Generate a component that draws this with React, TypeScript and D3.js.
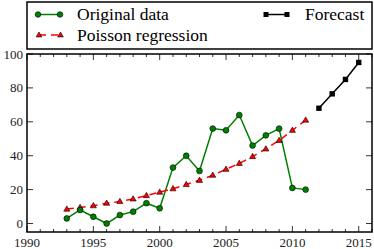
import React from 'react';
import * as d3 from 'd3';

const ORIG_YEARS = [1993, 1994, 1995, 1996, 1997, 1998, 1999, 2000, 2001, 2002,
  2003, 2004, 2005, 2006, 2007, 2008, 2009, 2010, 2011];
const ORIG_VALUES = [3, 8, 4, 0, 5, 7, 12, 9, 33, 40, 31, 56, 55, 64, 46, 52, 56, 21, 20];
const POISSON_VALUES = [8.5, 9.5, 10.5, 12, 13, 14.5, 16.5, 18.5, 20.5, 23,
  25.5, 28.5, 32, 35.5, 39.5, 44, 49, 55, 61];
const FORECAST_YEARS = [2012, 2013, 2014, 2015];
const FORECAST_VALUES = [68, 76.5, 85, 95];
const X_TICKS = [1990, 1995, 2000, 2005, 2010, 2015];
const Y_TICKS = [0, 20, 40, 60, 80, 100];

const W = 374;
const H = 249;
const M = { left: 27, right: 2, top: 54, bottom: 17 };

const GREEN = '#008000';
const RED = '#ff0000';

// fonts forced with !important in case something else styles svg text
const CSS = `
svg.chart text { font-family: "Liberation Serif", serif !important; }
svg.chart text.lg { font-size: 17.5px !important; }
svg.chart text.tk { font-size: 13px !important; }
`;

type Pt = { x: number; y: number };

const tri = (cx: number, cy: number, s: number) =>
  `M${cx},${cy - s}L${cx + s * 0.95},${cy + s * 0.65}L${cx - s * 0.95},${cy + s * 0.65}Z`;

export default function App() {
  const x = d3.scaleLinear().domain([1990, 2016]).range([M.left, W - M.right]);
  const y = d3.scaleLinear().domain([-5, 100]).range([H - M.bottom, M.top]);

  const line = d3.line<Pt>().x(d => x(d.x)).y(d => y(d.y));
  const orig = ORIG_YEARS.map((yr, i) => ({ x: yr, y: ORIG_VALUES[i] }));
  const pois = ORIG_YEARS.map((yr, i) => ({ x: yr, y: POISSON_VALUES[i] }));
  const fc = FORECAST_YEARS.map((yr, i) => ({ x: yr, y: FORECAST_VALUES[i] }));

  const minor = d3.range(1990, 2017);
  const x0 = M.left, x1 = W - M.right, y0 = M.top, y1 = H - M.bottom;

  return (
    <svg className="chart" width={W} height={H}
      style={{ position: 'absolute', left: 0, top: 0, background: '#fff' }}>
      <style>{CSS}</style>
      {/* legend */}
      <rect x={27} y={2} width={345} height={47} fill="#fff" stroke="#000" strokeWidth={1.5} />
      <line x1={38} x2={60} y1={14.5} y2={14.5} stroke={GREEN} strokeWidth={1.5} />
      <circle cx={38} cy={14.5} r={2.8} fill={GREEN} stroke="#000" strokeWidth={0.6} />
      <circle cx={60} cy={14.5} r={2.8} fill={GREEN} stroke="#000" strokeWidth={0.6} />
      <text className="lg" x={77} y={20}>Original data</text>

      <line x1={39} x2={60} y1={35} y2={35} stroke={RED} strokeWidth={1.5} strokeDasharray="7 5" />
      <path d={tri(39, 35, 3)} fill={RED} stroke="#000" strokeWidth={0.6} />
      <path d={tri(60.5, 35, 3)} fill={RED} stroke="#000" strokeWidth={0.6} />
      <text className="lg" x={77} y={40.5}>Poisson regression</text>

      <line x1={266} x2={287} y1={14.5} y2={14.5} stroke="#000" strokeWidth={1.5} />
      <rect x={263.5} y={12} width={5} height={5} fill="#000" />
      <rect x={284.5} y={12} width={5} height={5} fill="#000" />
      <text className="lg" x={305} y={20}>Forecast</text>

      {/* ticks */}
      {minor.map(v => {
        const len = v % 5 === 0 ? 6 : 3;
        return (
          <g key={v} stroke="#000" strokeWidth={0.8}>
            <line x1={x(v)} x2={x(v)} y1={y1} y2={y1 - len} />
            <line x1={x(v)} x2={x(v)} y1={y0} y2={y0 + len} />
          </g>
        );
      })}
      {Y_TICKS.map(v => (
        <g key={v} stroke="#000" strokeWidth={0.8}>
          <line x1={x0} x2={x0 + 6} y1={y(v)} y2={y(v)} />
          <line x1={x1} x2={x1 - 6} y1={y(v)} y2={y(v)} />
        </g>
      ))}
      {X_TICKS.map(v => (
        <text className="tk" key={v} x={x(v)} y={y1 + 15} textAnchor="middle" fill="#222">{v}</text>
      ))}
      {Y_TICKS.map(v => (
        <text className="tk" key={v} x={x0 - 4} y={y(v) + 4.5} textAnchor="end" fill="#222">{v}</text>
      ))}

      {/* series */}
      <path d={line(orig) ?? ''} fill="none" stroke={GREEN} strokeWidth={1.5} />
      <path d={line(pois) ?? ''} fill="none" stroke={RED} strokeWidth={1.5} strokeDasharray="7 5" />
      <path d={line(fc) ?? ''} fill="none" stroke="#000" strokeWidth={1.5} />
      {pois.map(d => (
        <path key={d.x} d={tri(x(d.x), y(d.y), 3.2)} fill={RED} stroke="#000" strokeWidth={0.6} />
      ))}
      {orig.map(d => (
        <circle key={d.x} cx={x(d.x)} cy={y(d.y)} r={2.9} fill={GREEN} stroke="#000" strokeWidth={0.6} />
      ))}
      {fc.map(d => (
        <rect key={d.x} x={x(d.x) - 2.7} y={y(d.y) - 2.7} width={5.4} height={5.4} fill="#000" />
      ))}

      {/* frame */}
      <rect x={x0} y={y0} width={x1 - x0} height={y1 - y0} fill="none" stroke="#000" strokeWidth={1.5} />
    </svg>
  );
}
